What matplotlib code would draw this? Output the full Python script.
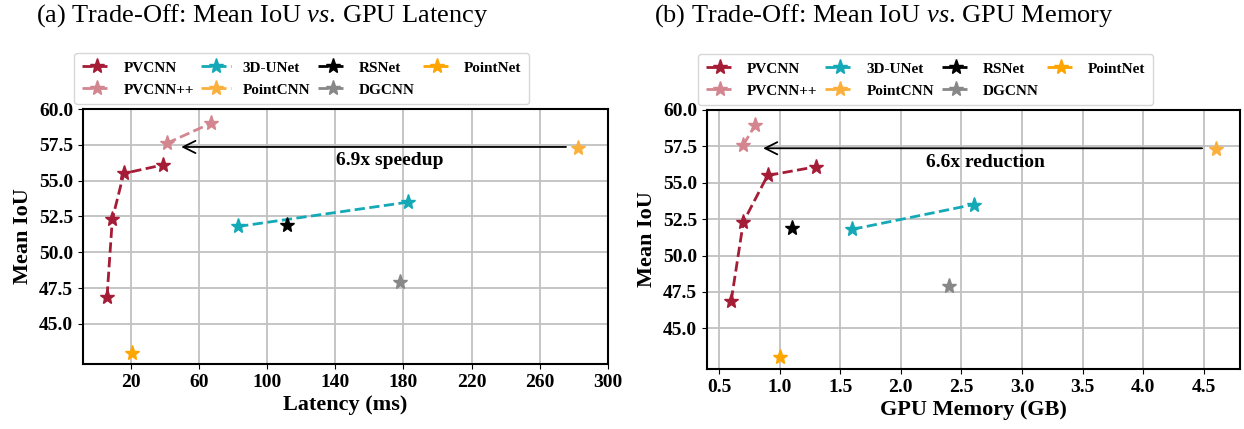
import matplotlib
matplotlib.use("Agg")
import matplotlib.pyplot as plt

plt.rcParams["font.family"] = "Liberation Serif"
plt.rcParams["font.weight"] = "bold"
plt.rcParams["axes.labelweight"] = "bold"
plt.rcParams["font.size"] = 14
plt.rcParams["mathtext.fontset"] = "custom"
plt.rcParams["mathtext.it"] = "Liberation Serif:italic:normal"
plt.rcParams["mathtext.rm"] = "Liberation Serif:normal"

# name, colour, latency (ms), memory (GB), mean IoU
models = ["PVCNN", "PVCNN++", "3D-UNet", "PointCNN", "RSNet", "DGCNN", "PointNet"]
colors = ["#A51C36", "#D3868F", "#14A9B6", "#FBB03B", "black", "#888888", "#FFA500"]

pvcnn_lat = [6.1, 9.2, 15.9, 39.0]
pvcnn_mem = [0.6, 0.7, 0.9, 1.3]
pvcnn_iou = [46.9, 52.3, 55.5, 56.1]

pvcnnpp_lat = [41.0, 67.0]
pvcnnpp_mem = [0.7, 0.8]
pvcnnpp_iou = [57.6, 59.0]

unet_lat = [83.0, 182.8]
unet_mem = [1.6, 2.6]
unet_iou = [51.8, 53.5]

pointcnn_lat = [282.6]
pointcnn_mem = [4.6]
pointcnn_iou = [57.3]

rsnet_lat = [111.4]
rsnet_mem = [1.1]
rsnet_iou = [51.9]

dgcnn_lat = [178.2]
dgcnn_mem = [2.4]
dgcnn_iou = [47.9]

pointnet_lat = [20.8]
pointnet_mem = [1.0]
pointnet_iou = [43.0]

lat_series = [pvcnn_lat, pvcnnpp_lat, unet_lat, pointcnn_lat, rsnet_lat, dgcnn_lat, pointnet_lat]
mem_series = [pvcnn_mem, pvcnnpp_mem, unet_mem, pointcnn_mem, rsnet_mem, dgcnn_mem, pointnet_mem]
iou_series = [pvcnn_iou, pvcnnpp_iou, unet_iou, pointcnn_iou, rsnet_iou, dgcnn_iou, pointnet_iou]

fig = plt.figure(figsize=(12.44, 4.29), dpi=100)
ax1 = fig.add_axes([83 / 1244, 1 - 364 / 429, 525 / 1244, 255 / 429])
ax2 = fig.add_axes([707 / 1244, 1 - 369 / 429, 533 / 1244, 259 / 429])


def draw(ax, xs_list, xlabel):
    for name, c, xs, ys in zip(models, colors, xs_list, iou_series):
        ax.plot(xs, ys, "--", marker="*", color=c, label=name,
                linewidth=2, markersize=11)
    ax.grid(True, color="#c0c0c0", linewidth=1.3)
    ax.set_axisbelow(True)
    ax.set_ylabel("Mean IoU", fontsize=16)
    ax.set_xlabel(xlabel, fontsize=16, labelpad=3)
    ax.set_ylim(42.2, 60.0)
    ax.set_yticks([45.0, 47.5, 50.0, 52.5, 55.0, 57.5, 60.0])
    ax.yaxis.set_major_formatter(plt.FormatStrFormatter("%.1f"))
    for s in ax.spines.values():
        s.set_linewidth(1.5)
    ax.legend(ncol=4, loc="lower left", bbox_to_anchor=(-0.025, 1.0),
              fontsize=11, frameon=True, handlelength=1.9, columnspacing=0.5,
              borderaxespad=0.3, handletextpad=0.8, labelspacing=0.55,
              borderpad=0.5)


draw(ax1, lat_series, "Latency (ms)")
ax1.set_xlim(-8, 300)
ax1.set_xticks([20, 60, 100, 140, 180, 220, 260, 300])
ax1.annotate("", xy=(48, 57.35), xytext=(277, 57.35),
             arrowprops=dict(arrowstyle="->", color="black", lw=1.3,
                             mutation_scale=22))
ax1.text(172, 56.4, "6.9x speedup", ha="center", va="center", fontsize=14,
         fontweight="bold")

draw(ax2, mem_series, "GPU Memory (GB)")
ax2.set_xlim(0.4, 4.8)
ax2.set_xticks([0.5, 1.0, 1.5, 2.0, 2.5, 3.0, 3.5, 4.0, 4.5])
ax2.annotate("", xy=(0.84, 57.37), xytext=(4.51, 57.37),
             arrowprops=dict(arrowstyle="->", color="black", lw=1.3,
                             mutation_scale=22))
ax2.text(2.7, 56.4, "6.6x reduction", ha="center", va="center", fontsize=14,
         fontweight="bold")

fig.text(262 / 1244, 1 - 16 / 429, r"(a) Trade-Off: Mean IoU $\mathit{vs}$. GPU Latency",
         ha="center", va="center", fontsize=19, fontweight="normal")
fig.text(884 / 1244, 1 - 16 / 429, r"(b) Trade-Off: Mean IoU $\mathit{vs}$. GPU Memory",
         ha="center", va="center", fontsize=19, fontweight="normal")

fig.savefig("out.png", dpi=100)
